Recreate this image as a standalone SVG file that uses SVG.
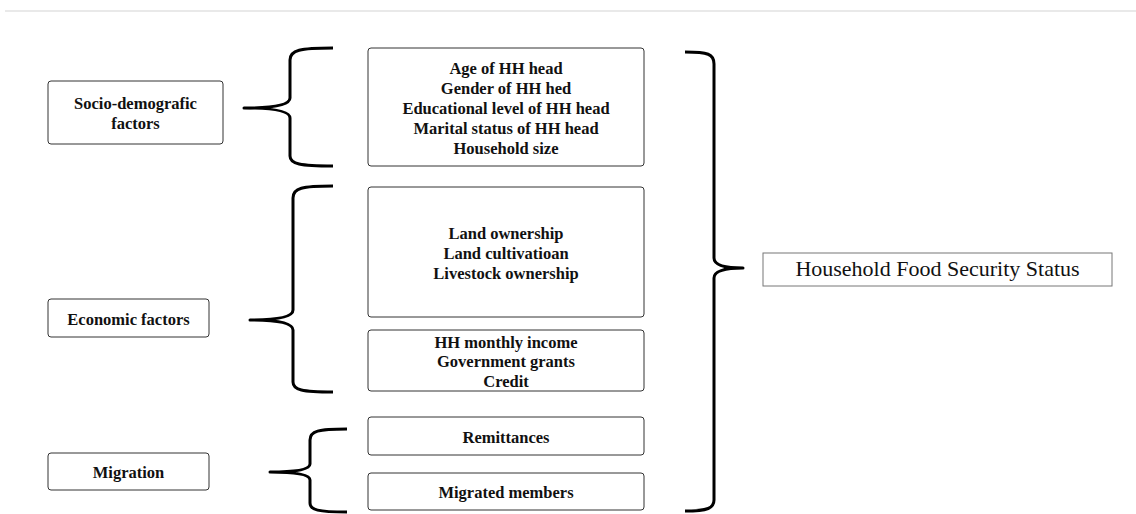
<svg xmlns="http://www.w3.org/2000/svg" width="1136" height="514" viewBox="0 0 1136 514">
<style>
.bx{fill:#fff;stroke:#333;stroke-width:1}
.t{font-family:'Liberation Serif','Times New Roman',serif;font-weight:bold;font-size:16.5px;fill:#111;text-anchor:middle}
.big{font-family:'Liberation Serif','Times New Roman',serif;font-size:22px;fill:#111;text-anchor:middle}
.br{fill:none;stroke:#000;stroke-width:3;stroke-linejoin:round}
</style>
<rect width="1136" height="514" fill="#fff"/>
<line x1="5" y1="11" x2="1136" y2="11" stroke="#e2e2e2" stroke-width="1.5"/>
<g id="connectors">
<path class="br" d="M333,48 C300,48 290,50 290,60 L290,98 Q290,108 244,108 Q290,108 290,118 L290,156 C290,164 300,166 333,166"/>
<path class="br" d="M333,186 C302,186 293,188 293,198 L293,310 Q293,320 250,320 Q293,320 293,330 L293,382 C293,390 302,392 333,392"/>
<path class="br" d="M347,429 C318,429 310,431 310,440 L310,464 Q310,472 270,472 Q310,472 310,480 L310,503 C310,510 318,512 347,512"/>
<path class="br" d="M685,52 C708,52 714,54 714,64 L714,258 Q714,268 743,268 Q714,268 714,278 L714,500 C714,508 708,511 685,511"/>
</g>
<g id="socio"><rect class="bx" x="48" y="81" width="175" height="63" rx="3"/><text class="t" x="135.5" y="109">Socio-demografic</text><text class="t" x="135.5" y="129">factors</text></g>
<g id="economic"><rect class="bx" x="48" y="299" width="161" height="38" rx="3"/><text class="t" x="128.5" y="325">Economic factors</text></g>
<g id="migration"><rect class="bx" x="48" y="453" width="161" height="37" rx="3"/><text class="t" x="128.5" y="478">Migration</text></g>
<g id="socio-items"><rect class="bx" x="368" y="48" width="276" height="118" rx="3"/>
<text class="t" x="506" y="74">Age of HH head</text><text class="t" x="506" y="94">Gender of HH hed</text><text class="t" x="506" y="114">Educational level of HH head</text><text class="t" x="506" y="134">Marital status of HH head</text><text class="t" x="506" y="154">Household size</text></g>
<g id="land-items"><rect class="bx" x="368" y="187" width="276" height="130" rx="3"/>
<text class="t" x="506" y="239">Land ownership</text><text class="t" x="506" y="259">Land cultivatioan</text><text class="t" x="506" y="279">Livestock ownership</text></g>
<g id="income-items"><rect class="bx" x="368" y="330" width="276" height="61" rx="3"/>
<text class="t" x="506" y="348">HH monthly income</text><text class="t" x="506" y="367">Government grants</text><text class="t" x="506" y="387">Credit</text></g>
<g id="remittances"><rect class="bx" x="368" y="417" width="276" height="38" rx="3"/><text class="t" x="506" y="443">Remittances</text></g>
<g id="migrated"><rect class="bx" x="368" y="473" width="276" height="37" rx="3"/><text class="t" x="506" y="498">Migrated members</text></g>
<g id="hfss"><rect x="763" y="253" width="349" height="33" fill="#fff" stroke="#777" stroke-width="1"/><text class="big" x="937.5" y="276">Household Food Security Status</text></g>
</svg>
